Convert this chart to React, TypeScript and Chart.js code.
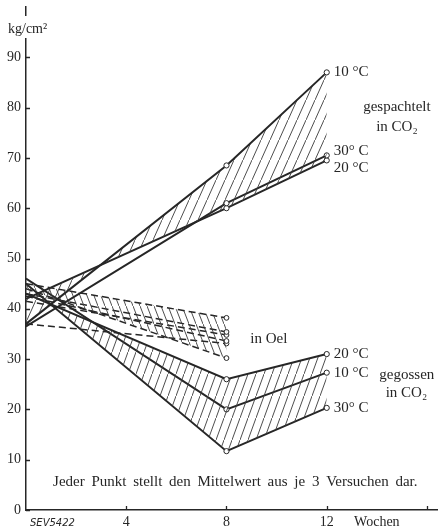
import React, { useEffect, useRef } from 'react';
import { Chart, registerables } from 'chart.js';
Chart.register(...registerables);

// weeks
const weeksCO2 = [0, 8, 12];
const weeksOel = [0, 8];
// gespachtelt in CO2
const spachtel10 = [37, 68.5, 87];
const spachtel30 = [36.5, 61, 70.5];
const spachtel20 = [42, 60, 69.5];
// in Oel (dashed)
const oelA = [45, 38.2];
const oelB = [43, 35.4];
const oelC = [41.5, 34.8];
const oelF = [42.5, 33.6];
const oelD = [37, 33.1];
const oelE = [44, 30.2];
// gegossen in CO2
const guss20 = [43, 26, 31];
const guss10 = [46, 20, 27.3];
const guss30 = [45, 11.7, 20.3];
// axes
const yTickValues = [0, 10, 20, 30, 40, 50, 60, 70, 80, 90];
const xTickValues = [4, 8, 12, 14];
const xTickLabels = ['4', '8', '12', 'Wochen'];
const xMarkValues = [4, 8, 12, 16];

const INK = '#262626';
const SERIF = '"Liberation Serif", "DejaVu Serif", serif';

function hatch(dir: 'fwd' | 'back', w: number, h: number) {
  const c = document.createElement('canvas');
  c.width = w;
  c.height = h;
  const g = c.getContext('2d')!;
  g.strokeStyle = '#3a3a3a';
  g.lineWidth = 0.9;
  g.beginPath();
  if (dir === 'fwd') {
    g.moveTo(-1, h + h / w);
    g.lineTo(w + 1, -h / w);
  } else {
    g.moveTo(-1, -h / w);
    g.lineTo(w + 1, h + h / w);
  }
  g.stroke();
  return g.createPattern(c, 'repeat')!;
}

const pts = (xs: number[], ys: number[]) => xs.map((x, i) => ({ x, y: ys[i] }));

export default function App() {
  const ref = useRef<HTMLCanvasElement>(null);
  useEffect(() => {
    document.body.style.margin = '0';
    document.body.style.background = '#fff';
    const pFwd = hatch('fwd', 9, 20);
    const pFwd2 = hatch('fwd', 8, 22);
    const pBack = hatch('back', 7, 18);

    const solid = (data: number[], extra: any = {}) => ({
      data: pts(weeksCO2, data),
      borderColor: INK,
      borderWidth: 2,
      pointRadius: [0, 2.6, 2.6],
      pointBackgroundColor: '#fff',
      pointBorderColor: INK,
      pointBorderWidth: 1,
      fill: false,
      tension: 0,
      ...extra,
    });
    const dashed = (data: number[], extra: any = {}) => ({
      data: pts(weeksOel, data),
      borderColor: INK,
      borderWidth: 1.5,
      borderDash: [7, 4],
      pointRadius: [0, 2.4],
      pointBackgroundColor: '#fff',
      pointBorderColor: INK,
      pointBorderWidth: 1,
      fill: false,
      tension: 0,
      ...extra,
    });

    const datasets: any[] = [
      solid(spachtel10, { fill: { target: 2, above: pFwd, below: pFwd } }), // 0
      solid(spachtel30), // 1
      solid(spachtel20), // 2
      dashed(oelA, { fill: { target: 8, above: pBack, below: pBack } }), // 3
      dashed(oelB), // 4
      dashed(oelC), // 5
      dashed(oelF), // 6
      dashed(oelD), // 7
      dashed(oelE), // 8
      solid(guss20, { fill: { target: 11, above: pFwd2, below: pFwd2 } }), // 9
      solid(guss10), // 10
      solid(guss30), // 11
    ];

    const deco = {
      id: 'deco',
      afterDraw(chart: any) {
        const { ctx, scales } = chart;
        const x = scales.x;
        const y = scales.y;
        const area = chart.chartArea;
        ctx.save();
        // inward tick marks
        ctx.strokeStyle = INK;
        ctx.lineWidth = 1.3;
        ctx.beginPath();
        yTickValues.forEach((v) => {
          const py = Math.round(y.getPixelForValue(v)) + 0.5;
          ctx.moveTo(area.left, py);
          ctx.lineTo(area.left + 4, py);
        });
        xMarkValues.forEach((v) => {
          const px = Math.round(x.getPixelForValue(v)) + 0.5;
          ctx.moveTo(px, area.bottom);
          ctx.lineTo(px, area.bottom - 4);
        });
        ctx.stroke();

        ctx.fillStyle = INK;
        ctx.textBaseline = 'middle';
        const txt = (s: string, px: number, py: number, size = 15, align: CanvasTextAlign = 'left') => {
          ctx.font = `${size}px ${SERIF}`;
          ctx.textAlign = align;
          ctx.fillText(s, px, py);
        };
        const X = (v: number) => x.getPixelForValue(v);
        const Y = (v: number) => y.getPixelForValue(v);

        // unit label interrupting the axis
        ctx.fillStyle = '#fff';
        ctx.fillRect(area.left - 3, 16, 7, 22);
        ctx.fillStyle = INK;
        txt('kg/cm²', 8, 29, 14);

        // gespachtelt labels
        txt('10 °C', X(12) + 7, Y(spachtel10[2]));
        txt('30° C', X(12) + 7, Y(spachtel30[2]) - 4);
        txt('20 °C', X(12) + 7, Y(spachtel20[2]) + 8);
        txt('gespachtelt', X(14.8), Y(80.2), 15, 'center');
        txt('in CO₂', X(14.8), Y(76.2), 15, 'center');
        // Oel
        txt('in Oel', X(8.95), Y(34));
        // gegossen labels
        txt('20 °C', X(12) + 7, Y(guss20[2]));
        txt('10 °C', X(12) + 7, Y(guss10[2]));
        txt('30° C', X(12) + 7, Y(guss30[2]));
        txt('gegossen', X(14.1), Y(26.9));
        txt('in CO₂', X(14.35), Y(23.3));
        // note
        (ctx as any).wordSpacing = '3px';
        txt('Jeder Punkt stellt den Mittelwert aus je 3 Versuchen dar.', X(8.35), Y(5.6), 15, 'center');
        (ctx as any).wordSpacing = '0px';
        // plate id
        ctx.font = `italic 10px "DejaVu Sans", sans-serif`;
        ctx.textAlign = 'left';
        ctx.fillText('SEV5422', 30, 523);
        ctx.restore();
      },
    };

    const chart = new Chart(ref.current!, {
      type: 'line',
      data: { datasets },
      options: {
        animation: false,
        responsive: false,
        events: [],
        layout: { padding: { top: 7, right: 3, left: 0, bottom: 0 } },
        plugins: {
          legend: { display: false },
          tooltip: { enabled: false },
          filler: { propagate: false },
        },
        scales: {
          x: {
            type: 'linear',
            min: 0,
            max: 16.4,
            grid: { display: false, drawTicks: false },
            border: { display: true, color: INK, width: 1.5 },
            afterFit: (s: any) => {
              s.height = 21;
              s.paddingLeft = 0;
              s.paddingRight = 0;
            },
            afterBuildTicks: (s: any) => {
              s.ticks = xTickValues.map((v) => ({ value: v }));
            },
            ticks: {
              color: INK,
              padding: 4,
              maxRotation: 0,
              autoSkip: false,
              font: { family: SERIF, size: 14 },
              callback: (v: any) => {
                const i = xTickValues.indexOf(Number(v));
                return i >= 0 ? xTickLabels[i] : '';
              },
            },
          },
          y: {
            type: 'linear',
            min: 0,
            max: 100,
            grid: { display: false, drawTicks: false },
            border: { display: true, color: INK, width: 1.5 },
            afterFit: (s: any) => {
              s.width = 26;
              s.paddingTop = 0;
              s.paddingBottom = 0;
            },
            afterBuildTicks: (s: any) => {
              s.ticks = yTickValues.map((v) => ({ value: v }));
            },
            ticks: {
              color: INK,
              padding: 5,
              autoSkip: false,
              font: { family: SERIF, size: 14 },
              callback: (v: any) => String(v),
            },
          },
        },
      },
      plugins: [deco],
    } as any);
    return () => chart.destroy();
  }, []);
  return <canvas ref={ref} width={442} height={531} style={{ display: 'block' }} />;
}
